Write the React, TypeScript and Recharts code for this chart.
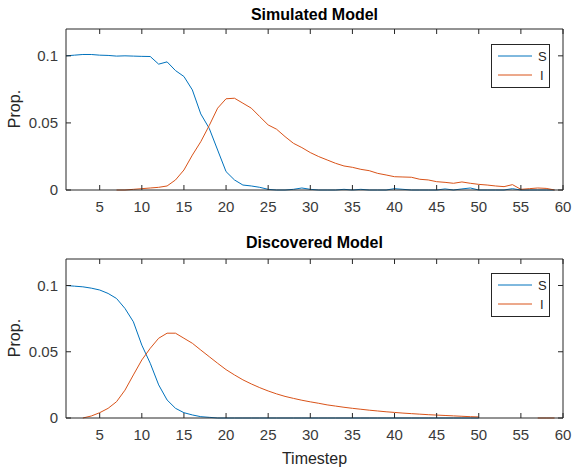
import React from 'react';
import { LineChart, Line, XAxis, YAxis, Legend, ReferenceLine } from 'recharts';

const FONT = '"Liberation Sans", Arial, Helvetica, sans-serif';
const AXIS = '#262626';
const BLUE = '#0072BD';
const ORANGE = '#D95319';

const steps = [
  1, 2, 3, 4, 5, 6, 7, 8, 9, 10, 11, 12, 13, 14, 15, 16, 17, 18, 19, 20,
  21, 22, 23, 24, 25, 26, 27, 28, 29, 30, 31, 32, 33, 34, 35, 36, 37, 38, 39, 40,
  41, 42, 43, 44, 45, 46, 47, 48, 49, 50, 51, 52, 53, 54, 55, 56, 57, 58, 59,
];

// simulated run
const simS = [
  0.1, 0.1005, 0.101, 0.101, 0.1005, 0.1003, 0.0998, 0.1, 0.0998, 0.0996,
  0.0995, 0.0938, 0.0955, 0.089, 0.0846, 0.0746, 0.0567, 0.046, 0.0298, 0.0137,
  0.0075, 0.0037, 0.003, 0.002, 0.0005, 0, 0, 0.0005, 0.0015, 0.0005,
  0, 0, 0, 0.0005, 0, 0.0005, 0, 0, 0, 0.001,
  0.0005, 0, 0, 0, 0, 0.0008, 0, 0.0008, 0.0015, 0,
  0, 0, 0, 0.001, 0, 0, 0, 0, 0,
];
const simI = [
  null, null, null, null, null, null, 0, 0, 0.0005, 0.001,
  0.0015, 0.002, 0.003, 0.0075, 0.0149, 0.026, 0.036, 0.048, 0.061, 0.068,
  0.0684, 0.0647, 0.061, 0.0547, 0.0485, 0.0453, 0.0398, 0.0348, 0.0316, 0.0279,
  0.0249, 0.0224, 0.0199, 0.0179, 0.0169, 0.0154, 0.0144, 0.0124, 0.0112, 0.0099,
  0.0097, 0.0095, 0.008, 0.0075, 0.0062, 0.0057, 0.005, 0.006, 0.005, 0.0042,
  0.0037, 0.003, 0.0025, 0.004, 0.0005, 0.001, 0.0015, 0.0012, 0,
];

// fitted model
const fitS = [
  0.1, 0.0995, 0.099, 0.098, 0.0966, 0.094, 0.0902, 0.0827, 0.0726, 0.055,
  0.0413, 0.025, 0.0136, 0.0073, 0.004, 0.0023, 0.001, 0.0005, 0, 0,
  0, 0, 0, 0, 0, 0, 0, 0, 0, 0,
  0, 0, 0, 0, 0, 0, 0, 0, 0, 0,
  0, 0, 0, 0, 0, 0, 0, 0, 0, 0,
  null, null, null, null, null, null, null, null, null,
];
const fitI = [
  null, null, 0, 0.0015, 0.004, 0.0073, 0.0123, 0.021, 0.0325, 0.0438,
  0.0526, 0.0602, 0.064, 0.064, 0.0602, 0.0564, 0.0513, 0.0463, 0.0413, 0.0365,
  0.0325, 0.0288, 0.0257, 0.0229, 0.0204, 0.0182, 0.0163, 0.0148, 0.0134, 0.0122,
  0.0111, 0.0099, 0.009, 0.0081, 0.0073, 0.0066, 0.0059, 0.0053, 0.0047, 0.0042,
  0.0037, 0.0033, 0.0029, 0.0025, 0.0022, 0.0019, 0.0016, 0.0013, 0.001, 0.0008,
  null, null, null, null, null, null, 0, 0, 0,
];

const xTicks = [5, 10, 15, 20, 25, 30, 35, 40, 45, 50, 55, 60];
const yTicks = [0, 0.05, 0.1];
const yLabels = ['0', '0.05', '0.1'];

const X_MARGIN = 12;
const Y_MARGIN = 8;
const TICK_LEN = 5;
const TICK_FONT = 15;
const PLOT_W = 497;

// bottom tick: label below, inward mark at the bottom edge and a matching one at the top edge
const BottomTick = (props: any) => {
  const { x, y, payload, span } = props;
  const base = y - X_MARGIN;
  const top = base - span;
  return (
    <g>
      <path d={`M${x},${base}V${base - TICK_LEN}M${x},${top}V${top + TICK_LEN}`} stroke={AXIS} strokeWidth={1} fill="none" />
      <text x={x} y={y} dy="0.66em" textAnchor="middle" fill="#3a3a3a" fontSize={TICK_FONT} fontFamily={FONT}>
        {payload.value}
      </text>
    </g>
  );
};

// left tick: label, inward mark on the left edge and a matching one on the right edge
const LeftTick = (props: any) => {
  const { x, y, payload } = props;
  const base = x + Y_MARGIN;
  const right = base + PLOT_W;
  const idx = yTicks.indexOf(payload.value);
  return (
    <g>
      <path d={`M${base},${y}H${base + TICK_LEN}M${right},${y}H${right - TICK_LEN}`} stroke={AXIS} strokeWidth={1} fill="none" />
      <text x={x} y={y} dy="0.355em" textAnchor="end" fill="#3a3a3a" fontSize={TICK_FONT} fontFamily={FONT}>
        {idx >= 0 ? yLabels[idx] : payload.value}
      </text>
    </g>
  );
};

const LegendBox = () => (
  <div style={{ width: 57, height: 42, border: `1px solid ${AXIS}`, background: '#fff' }}>
    <svg width={57} height={42} style={{ display: 'block' }}>
      <line x1={6} x2={40} y1={11} y2={11} stroke={BLUE} strokeWidth={1} />
      <text x={46} y={11} dy="0.355em" fontSize={13} fontFamily={FONT} fill={AXIS}>S</text>
      <line x1={6} x2={40} y1={30} y2={30} stroke={ORANGE} strokeWidth={1} />
      <text x={48} y={30} dy="0.355em" fontSize={13} fontFamily={FONT} fill={AXIS}>I</text>
    </svg>
  </div>
);

interface PanelProps {
  sVals: (number | null)[];
  iVals: (number | null)[];
  height: number;
  bottomPad: number;
  legendTop: number;
}

function Panel({ sVals, iVals, height, bottomPad, legendTop }: PanelProps) {
  const rows = steps.map((t, i) => ({ t, S: sVals[i], I: iVals[i] }));
  const plotH = height - 29 - 25 - bottomPad;
  return (
    <LineChart
      width={573}
      height={height}
      data={rows}
      margin={{ top: 29, right: 10, left: 26, bottom: bottomPad }}
    >
      <XAxis
        dataKey="t"
        type="number"
        domain={[1, 60]}
        ticks={xTicks}
        height={25}
        tickSize={0}
        tickMargin={X_MARGIN}
        tick={<BottomTick span={plotH} />}
        axisLine={{ stroke: AXIS }}
        tickLine={false}
      />
      <YAxis
        type="number"
        domain={[0, 0.12]}
        ticks={yTicks}
        width={40}
        tickSize={0}
        tickMargin={Y_MARGIN}
        tick={<LeftTick />}
        axisLine={{ stroke: AXIS }}
        tickLine={false}
      />
      {/* closing edges of the box */}
      <ReferenceLine y={0.12} stroke={AXIS} strokeWidth={1} />
      <ReferenceLine x={60} stroke={AXIS} strokeWidth={1} />
      <Legend
        layout="vertical"
        align="center"
        verticalAlign="middle"
        wrapperStyle={{ left: 491, top: legendTop, width: 59, height: 44 }}
        content={() => <LegendBox />}
      />
      <Line type="linear" dataKey="S" stroke={BLUE} strokeWidth={1} dot={false} isAnimationActive={false} />
      <Line type="linear" dataKey="I" stroke={ORANGE} strokeWidth={1} dot={false} isAnimationActive={false} />
    </LineChart>
  );
}

const titleStyle: React.CSSProperties = {
  position: 'absolute',
  left: 66,
  width: 497,
  textAlign: 'center',
  fontFamily: FONT,
  fontWeight: 'bold',
  fontSize: 16,
  color: '#000',
  lineHeight: '18px',
};

const yLabelStyle: React.CSSProperties = {
  position: 'absolute',
  left: 15,
  fontFamily: FONT,
  fontSize: 16,
  color: AXIS,
  whiteSpace: 'nowrap',
  transform: 'translate(-50%, -50%) rotate(-90deg)',
};

export default function App() {
  return (
    <div style={{ position: 'absolute', left: 0, top: 0, width: 573, height: 471, background: '#fff' }}>
      <div style={{ position: 'absolute', left: 0, top: 0 }}>
        <Panel sVals={simS} iVals={simI} height={235} bottomPad={20} legendTop={44} />
      </div>
      <div style={{ position: 'absolute', left: 0, top: 230 }}>
        <Panel sVals={fitS} iVals={fitI} height={241} bottomPad={28} legendTop={43} />
      </div>

      <div style={{ ...titleStyle, top: 6 }}>Simulated Model</div>
      <div style={{ ...titleStyle, top: 234 }}>Discovered Model</div>

      <div style={{ ...yLabelStyle, top: 109 }}>Prop.</div>
      <div style={{ ...yLabelStyle, top: 338 }}>Prop.</div>

      <div
        style={{
          position: 'absolute',
          left: 66,
          width: 497,
          top: 450,
          textAlign: 'center',
          fontFamily: FONT,
          fontSize: 16,
          color: AXIS,
          lineHeight: '18px',
        }}
      >
        Timestep
      </div>
    </div>
  );
}
